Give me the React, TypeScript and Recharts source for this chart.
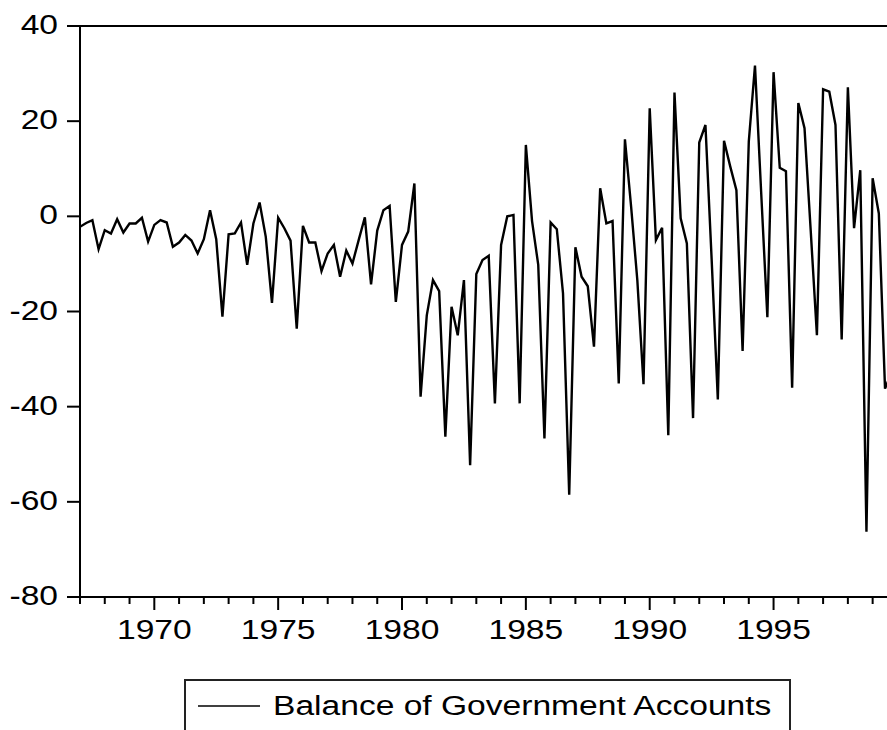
import React from "react";
import { LineChart, Line, XAxis, YAxis, ReferenceLine, Legend } from "recharts";

// Quarterly observations, 1967Q1 .. 1999Q4
const START_YEAR = 1967;
const balance: number[] = [
  -2.2, -1.4, -0.8, -6.9, -2.9, -3.6, -0.6, -3.4, -1.5, -1.5, -0.3, -5.3,
  -1.8, -0.8, -1.3, -6.4, -5.5, -3.9, -5.1, -7.8, -4.8, 1.3, -4.8, -21.1,
  -3.8, -3.6, -1.3, -10.2, -1.5, 2.9, -4.3, -18.2, -0.3, -2.5, -5.1, -23.6,
  -2.0, -5.5, -5.5, -11.5, -7.8, -6.0, -12.7, -7.2, -9.9, -5.0, -0.2, -14.3,
  -3.0, 1.3, 2.2, -18.0, -6.0, -3.2, 6.9, -37.9, -20.8, -13.4, -15.7, -46.3,
  -19.0, -25.0, -13.4, -52.3, -12.1, -9.2, -8.3, -39.3, -6.0, 0.0, 0.3, -39.3,
  15.0, -1.0, -10.2, -46.7, -1.3, -2.7, -16.2, -58.5, -6.5, -12.7, -14.7, -27.4,
  5.9, -1.5, -1.0, -35.1, 16.2, 2.0, -13.4, -35.3, 22.7, -5.0, -2.4, -46.0,
  26.0, -0.4, -5.7, -42.4, 15.5, 19.2, -9.0, -38.5, 15.9, 10.5, 5.5, -28.3,
  15.7, 31.7, 5.0, -21.2, 30.3, 10.2, 9.5, -36.0, 23.8, 18.5, -3.0, -25.0,
  26.7, 26.2, 19.2, -25.9, 27.1, -2.5, 9.7, -66.3, 8.0, 0.6, -36.2, -33.0,
];
const xTicks: number[] = [
  1967, 1968, 1969, 1970, 1971, 1972, 1973, 1974, 1975, 1976, 1977, 1978,
  1979, 1980, 1981, 1982, 1983, 1984, 1985, 1986, 1987, 1988, 1989, 1990,
  1991, 1992, 1993, 1994, 1995, 1996, 1997, 1998, 1999,
];
const labeledYears: number[] = [1970, 1975, 1980, 1985, 1990, 1995];
const yTicks: number[] = [-80, -60, -40, -20, 0, 20, 40];
const seriesName = "Balance of Government Accounts";

const data = balance.map((v, i) => ({ t: START_YEAR + i / 4, v }));

const FONT = "'Liberation Sans', Arial, Helvetica, sans-serif";
const FS = 28;
const SX = 1.2;

const XTick = (props: any) => {
  const { x, y, payload } = props;
  const yr = Math.round(payload.value);
  const major = labeledYears.includes(yr);
  return (
    <g>
      <line x1={x} x2={x} y1={y} y2={y + (major ? 13 : 7)} stroke="#000" strokeWidth={2} />
      {major && (
        <text
          transform={`translate(${x},${y + 42}) scale(${SX},1)`}
          textAnchor="middle"
          fontSize={FS}
          fontFamily={FONT}
          fill="#000"
        >
          {yr}
        </text>
      )}
    </g>
  );
};

const YTick = (props: any) => {
  const { x, y, payload } = props;
  return (
    <text
      transform={`translate(${x},${y + 8}) scale(${SX},1)`}
      textAnchor="end"
      fontSize={FS}
      fontFamily={FONT}
      fill="#000"
    >
      {payload.value}
    </text>
  );
};

const LegendBox = () => (
  <svg width={610} height={60} style={{ display: "block", overflow: "visible" }}>
    <rect x={1} y={1} width={605} height={80} fill="#fff" stroke="#222" strokeWidth={2} />
    <line x1={14} x2={76} y1={27} y2={27} stroke="#000" strokeWidth={1.6} />
    <text
      transform={`translate(89,36) scale(${SX},1)`}
      fontSize={FS}
      fontFamily={FONT}
      fill="#000"
    >
      {seriesName}
    </text>
  </svg>
);

export default function App() {
  const W = 920;
  const H = 730;
  const plotLeft = 80;
  const plotWidth = 33 * 24.77;
  return (
    <div
      style={{
        position: "fixed",
        left: 0,
        top: 0,
        width: 887,
        height: 730,
        overflow: "hidden",
        background: "#fff",
      }}
    >
      <LineChart
        width={W}
        height={H}
        data={data}
        margin={{ top: 26, right: W - plotLeft - plotWidth, left: 0, bottom: 0 }}
      >
        <XAxis
          type="number"
          dataKey="t"
          domain={[1967, 2000]}
          ticks={xTicks}
          interval={0}
          tick={<XTick />}
          tickLine={false}
          tickSize={0}
          tickMargin={0}
          axisLine={{ stroke: "#000", strokeWidth: 2 }}
          height={133}
          allowDataOverflow
        />
        <YAxis
          type="number"
          domain={[-80, 40]}
          ticks={yTicks}
          interval={0}
          width={80}
          tick={<YTick />}
          tickSize={13}
          tickMargin={9}
          tickLine={{ stroke: "#000", strokeWidth: 2 }}
          axisLine={{ stroke: "#000", strokeWidth: 2 }}
          allowDataOverflow
        />
        <ReferenceLine y={40} stroke="#000" strokeWidth={2} />
        <Line
          type="linear"
          dataKey="v"
          name={seriesName}
          stroke="#000"
          strokeWidth={2.4}
          dot={false}
          activeDot={false}
          isAnimationActive={false}
        />
        <Legend
          layout="horizontal"
          verticalAlign="middle"
          align="center"
          content={() => <LegendBox />}
          wrapperStyle={{ left: 184, top: 679, width: 610, height: 60, right: "auto", bottom: "auto" }}
        />
      </LineChart>
    </div>
  );
}
